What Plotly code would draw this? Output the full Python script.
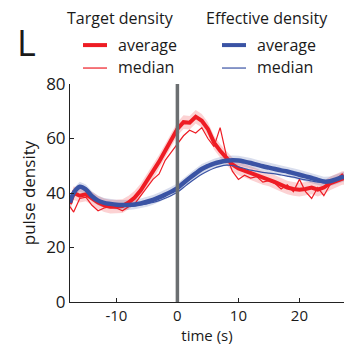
import plotly.graph_objects as go

time = [-17.6] + list(range(-17, 28)) + [27.3]

target_avg = [36, 40, 39, 39.5, 38, 36.5, 35.5, 35, 35, 35.2, 36.5, 38.3, 41, 44.5, 47.5, 51.5, 55.5, 59.5,
              63.5, 66, 65.8, 68, 66.5, 63.5, 58.5, 55.5, 53, 50.5, 49, 48.2, 47.3, 46.5, 45.5, 45, 44, 43,
              42, 41.5, 41.2, 41.5, 42, 41.2, 42, 43.5, 44.5, 45.5, 45.5]
target_med = [35, 33, 38, 38.5, 35.5, 33.5, 34.5, 35, 34.5, 33.5, 35, 36, 39, 42, 45, 47, 52, 55,
              58, 61, 63, 62, 64, 60, 57, 64, 54, 48, 45, 46.5, 45.5, 46, 44, 44.5, 43.5, 41.5,
              43, 40.5, 45, 40.5, 38, 42, 39, 43, 45, 47, 46]
effective_avg = [36.5, 40, 42.3, 41.3, 38.8, 37.2, 36.4, 36, 35.7, 35.6, 35.6, 35.8, 36.2, 36.8, 37.5, 38.4,
                 39.4, 40.5, 41.8, 43.7, 45.5, 47.2, 48.8, 49.9, 50.8, 51.4, 51.8, 52, 51.9, 51.5, 51,
                 50.4, 49.8, 49.3, 48.8, 48.3, 47.9, 47.3, 46.7, 46.1, 45.5, 44.8, 44.2, 44.3, 45, 45.8, 46]
effective_med = [36.5, 39.5, 41.8, 41, 38.6, 37, 36.2, 35.8, 35.5, 35.3, 35.2, 35.3, 35.6, 36, 36.5, 37.2,
                 38.1, 39.1, 40.3, 42, 43.8, 45.4, 46.9, 48.1, 49.1, 49.8, 50.2, 50.1, 49.6, 49, 48.4,
                 48, 47.6, 47.3, 47, 46.6, 46.2, 45.8, 45.3, 44.8, 44.4, 44, 43.8, 44.2, 45, 45.8, 46]
target_err = 2.5
effective_err = 1.8

x_range = [-17.6, 27.3]
y_range = [0, 80]
x_ticks = [-10, 0, 10, 20]
x_ticktext = ["-10", "0", "10", "20"]
y_ticks = [0, 20, 40, 60, 80]

RED = "#ee1c24"
BLUE = "#3a53a4"
FONT = "Open Sans"

fig = go.Figure()

def band(avg, err, color):
    up = [v + err for v in avg]
    lo = [v - err for v in avg]
    fig.add_trace(go.Scatter(x=time + time[::-1], y=up + lo[::-1], fill="toself",
                             fillcolor=color, line=dict(width=0), hoverinfo="skip",
                             showlegend=False))

band(target_avg, target_err, "rgba(238,28,36,0.2)")
band(effective_avg, effective_err, "rgba(58,83,164,0.2)")

fig.add_trace(go.Scatter(x=time, y=target_med, mode="lines", line=dict(color=RED, width=1.2), showlegend=False))
fig.add_trace(go.Scatter(x=time, y=target_avg, mode="lines", line=dict(color=RED, width=4), showlegend=False))
fig.add_trace(go.Scatter(x=time, y=effective_med, mode="lines", line=dict(color=BLUE, width=1.2, shape="spline"), showlegend=False))
fig.add_trace(go.Scatter(x=time, y=effective_avg, mode="lines", line=dict(color=BLUE, width=4.5, shape="spline"), showlegend=False))

# stimulus onset line
fig.add_shape(type="line", xref="x", yref="y", x0=0, x1=0, y0=y_range[0], y1=y_range[1],
              line=dict(color="#6b6f71", width=3.5), layer="above")

L, T, W, H = 70, 84, 274, 218.5
def px(x):
    return (x - L) / W
def py(y):
    return (T + H - y) / H

ann = []
def text(s, x, y, size=16, xanchor="left"):
    ann.append(dict(text=s, x=px(x), y=py(y), xref="paper", yref="paper", showarrow=False,
                    xanchor=xanchor, yanchor="middle", font=dict(family=FONT, size=size, color="#1a1a1a")))

text("L", 26, 42, size=36, xanchor="center")
text("Target density", 120, 18, xanchor="center")
text("Effective density", 267, 18, xanchor="center")
text("average", 116, 45)
text("median", 116, 67)
text("average", 255, 45)
text("median", 255, 67)

for (x0, col) in [(83, RED), (222, BLUE)]:
    fig.add_shape(type="line", xref="paper", yref="paper", x0=px(x0), x1=px(x0 + 24),
                  y0=py(45), y1=py(45), line=dict(color=col, width=4))
    fig.add_shape(type="line", xref="paper", yref="paper", x0=px(x0), x1=px(x0 + 24),
                  y0=py(68), y1=py(68), line=dict(color=col, width=1.2))

fig.update_layout(
    width=350, height=345,
    margin=dict(l=L, r=350 - L - W, t=T, b=345 - T - H),
    paper_bgcolor="white", plot_bgcolor="white",
    font=dict(family=FONT, size=16, color="#1a1a1a"),
    annotations=ann,
    showlegend=False,
)
fig.update_xaxes(range=x_range, tickvals=x_ticks, ticktext=x_ticktext, ticks="inside", ticklen=4, tickcolor="#222",
                 showline=True, linecolor="#222", linewidth=1, showgrid=False, zeroline=False,
                 tickfont=dict(size=15),
                 title=dict(text="time (s)", standoff=0, font=dict(size=15)))
fig.update_yaxes(range=y_range, tickvals=y_ticks, ticks="inside", ticklen=4, tickcolor="#222",
                 showline=True, linecolor="#222", linewidth=1, showgrid=False, zeroline=False,
                 tickfont=dict(size=17),
                 title=dict(text="pulse density", standoff=6, font=dict(size=17)))

fig.write_html("out.html", config={"displayModeBar": False},
               post_script="document.body.style.margin='0';document.body.style.padding='0';")
